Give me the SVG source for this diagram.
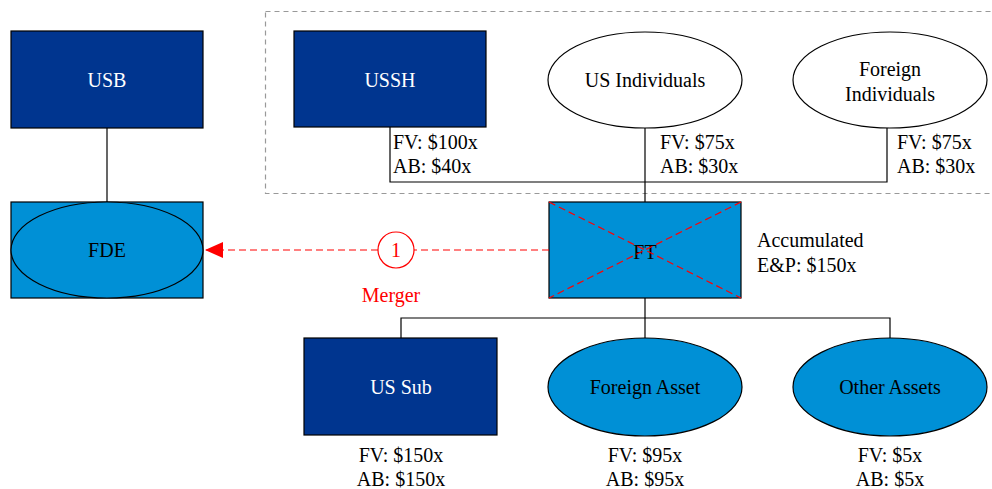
<svg xmlns="http://www.w3.org/2000/svg" width="992" height="489" viewBox="0 0 992 489">
  <defs>
    <style>
      text { font-family: "Liberation Serif", "Times New Roman", serif; font-size: 20px; fill: #000; }
      .mid { text-anchor: middle; }
      .white { fill: #fff; }
      .red { fill: #ff0000; }
      .dark { fill: #00358F; stroke: #000; stroke-width: 1.2; }
      .light { fill: #0090D6; stroke: #000; stroke-width: 1.2; }
      .plain { fill: #fff; stroke: #000; stroke-width: 1.2; }
      .conn { fill: none; stroke: #000; stroke-width: 1.2; }
      .dash { fill: none; stroke: #ff0000; stroke-width: 1.2; stroke-dasharray: 7 4; }
    </style>
    <marker id="arrowRed" markerWidth="18" markerHeight="16" refX="18" refY="8" orient="auto" markerUnits="userSpaceOnUse">
      <path d="M0,0 L18,8 L0,16 Z" fill="#ff0000"/>
    </marker>
  </defs>

  <!-- shareholder grouping -->
  <rect x="265.5" y="11.5" width="730" height="182" fill="none" stroke="#999" stroke-width="1.2" stroke-dasharray="5 4"/>

  <g id="USB">
    <rect class="dark" x="11" y="31" width="192" height="97"/>
    <text class="mid white" x="107" y="87">USB</text>
  </g>

  <g id="FDE">
    <rect class="light" x="11" y="202" width="192" height="96"/>
    <ellipse class="light" cx="107" cy="250" rx="96" ry="48"/>
    <text class="mid" x="107" y="257">FDE</text>
  </g>

  <g id="USSH">
    <rect class="dark" x="294" y="31" width="192" height="96"/>
    <text class="mid white" x="390" y="87">USSH</text>
    <text x="393" y="149">FV: $100x</text>
    <text x="393" y="173">AB: $40x</text>
  </g>

  <g id="USIndividuals">
    <ellipse class="plain" cx="645" cy="80" rx="97" ry="48"/>
    <text class="mid" x="645" y="87">US Individuals</text>
    <text x="660" y="149">FV: $75x</text>
    <text x="660" y="173">AB: $30x</text>
  </g>

  <g id="ForeignIndividuals">
    <ellipse class="plain" cx="890" cy="80" rx="97" ry="48"/>
    <text class="mid" x="890" y="76">Foreign</text>
    <text class="mid" x="890" y="101">Individuals</text>
    <text x="897" y="149">FV: $75x</text>
    <text x="897" y="173">AB: $30x</text>
  </g>

  <g id="FT">
    <rect class="light" x="549" y="202" width="192" height="96"/>
    <text class="mid" x="645" y="259">FT</text>
    <line class="dash" x1="549" y1="202" x2="741" y2="298"/>
    <line class="dash" x1="741" y1="202" x2="549" y2="298"/>
    <text x="757" y="247">Accumulated</text>
    <text x="757" y="272">E&amp;P: $150x</text>
  </g>

  <g id="USSub">
    <rect class="dark" x="304" y="338" width="193" height="97"/>
    <text class="mid white" x="401" y="394">US Sub</text>
    <text class="mid" x="401" y="462">FV: $150x</text>
    <text class="mid" x="401" y="486">AB: $150x</text>
  </g>

  <g id="ForeignAsset">
    <ellipse class="light" cx="645" cy="387" rx="97" ry="49"/>
    <text class="mid" x="645" y="394">Foreign Asset</text>
    <text class="mid" x="645" y="462">FV: $95x</text>
    <text class="mid" x="645" y="486">AB: $95x</text>
  </g>

  <g id="OtherAssets">
    <ellipse class="light" cx="890" cy="387" rx="97" ry="49"/>
    <text class="mid" x="890" y="394">Other Assets</text>
    <text class="mid" x="890" y="462">FV: $5x</text>
    <text class="mid" x="890" y="486">AB: $5x</text>
  </g>

  <g id="connectors">
    <line class="conn" x1="107" y1="128" x2="107" y2="202"/>
    <polyline class="conn" points="390,127 390,182 887,182 887,128"/>
    <line class="conn" x1="645" y1="128" x2="645" y2="202"/>
    <line class="conn" x1="645" y1="298" x2="645" y2="338"/>
    <polyline class="conn" points="401,338 401,318 890,318 890,338"/>
    <!-- merger path -->
    <line class="dash" x1="549" y1="250" x2="414" y2="250"/>
    <line class="dash" x1="378" y1="250" x2="205" y2="250" marker-end="url(#arrowRed)"/>
  </g>

  <g id="Merger">
    <circle cx="396" cy="250" r="18" fill="#fff" stroke="#ff0000" stroke-width="1.2"/>
    <text class="mid red" x="396" y="257">1</text>
    <text class="mid red" x="391" y="302">Merger</text>
  </g>
</svg>
